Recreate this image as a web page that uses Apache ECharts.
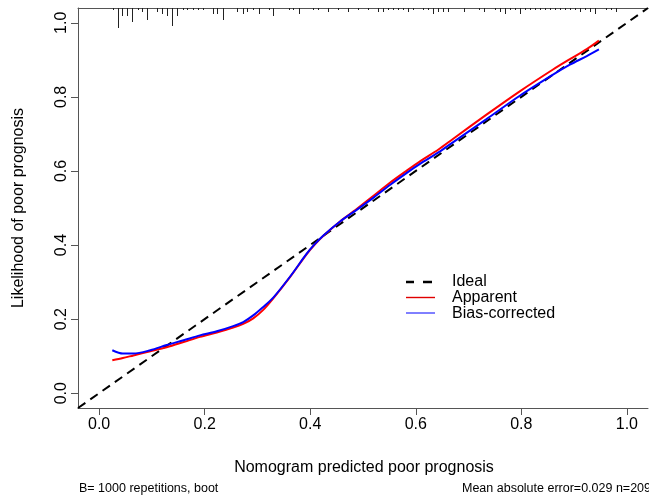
<!DOCTYPE html>
<html>
<head>
<meta charset="utf-8">
<script src="https://cdn.jsdelivr.net/npm/echarts@6/dist/echarts.min.js"></script>
<style>
html,body{margin:0;padding:0;background:#fff;}
#chart{width:649px;height:497px;}
</style>
</head>
<body>
<div id="chart"></div>
<script>
// ---- data ----
var tickValues = [0, 0.2, 0.4, 0.6, 0.8, 1.0];
var predX = [0.025, 0.045, 0.065, 0.097, 0.128, 0.160, 0.191, 0.223, 0.254, 0.273, 0.292, 0.311, 0.330, 0.362, 0.393, 0.409, 0.425, 0.456, 0.488, 0.520, 0.551, 0.583, 0.608, 0.643, 0.671, 0.734, 0.797, 0.860, 0.892, 0.924, 0.947];
var apparent = [0.089, 0.095, 0.102, 0.113, 0.124, 0.138, 0.152, 0.164, 0.177, 0.187, 0.202, 0.225, 0.256, 0.314, 0.375, 0.402, 0.425, 0.463, 0.497, 0.533, 0.568, 0.601, 0.626, 0.658, 0.687, 0.752, 0.815, 0.874, 0.902, 0.929, 0.952];
var biasCorrected = [0.116, 0.107, 0.107, 0.116, 0.130, 0.143, 0.156, 0.167, 0.181, 0.192, 0.210, 0.233, 0.258, 0.315, 0.376, 0.403, 0.426, 0.463, 0.495, 0.528, 0.562, 0.595, 0.619, 0.650, 0.678, 0.740, 0.803, 0.860, 0.887, 0.910, 0.928];
var idealX = [-0.04, 1.04];
var rugX = [0.026, 0.035, 0.043, 0.052, 0.0625, 0.073, 0.081, 0.090, 0.110, 0.119, 0.129, 0.139, 0.148, 0.158, 0.167, 0.177, 0.187, 0.196, 0.215, 0.224, 0.234, 0.262, 0.272, 0.281, 0.291, 0.302, 0.321, 0.330,
            0.359, 0.367, 0.378, 0.406, 0.415, 0.434, 0.453, 0.472, 0.491, 0.510, 0.529, 0.538, 0.548, 0.557, 0.567, 0.576, 0.586, 0.595, 0.614, 0.624, 0.633, 0.643, 0.652, 0.661,
            0.691, 0.720, 0.729, 0.750, 0.759, 0.769, 0.778, 0.788, 0.797, 0.807, 0.816, 0.826, 0.835, 0.845, 0.854, 0.864, 0.873, 0.883, 0.892, 0.902, 0.911, 0.920, 0.930, 0.939, 0.960, 0.969, 0.979];
var rugCount = [1, 10, 4, 4, 7, 1, 2, 6, 2, 3, 4, 9, 4, 1, 1, 1, 1, 1, 3, 3, 6, 2, 3, 2, 1, 3, 1, 4,
                1, 1, 3, 1, 1, 2, 1, 2, 1, 1, 2, 2, 1, 1, 1, 1, 2, 1, 1, 1, 3, 2, 2, 2,
                2, 1, 2, 1, 2, 3, 1, 1, 3, 1, 1, 1, 1, 1, 1, 1, 1, 1, 1, 1, 2, 1, 2, 3, 1, 1, 2];
var legendNames = ['Ideal', 'Apparent', 'Bias-corrected'];
var xTitle = 'Nomogram predicted poor prognosis';
var yTitle = 'Likelihood of poor prognosis';
var noteLeft = 'B= 1000 repetitions, boot';
var noteRight = 'Mean absolute error=0.029 n=209';

// ---- chart ----
var FONT = "'Liberation Sans', Arial, Helvetica, sans-serif";
var AX = -0.04, BX = 1.04;
var RUG_UNIT = 0.0054;
function pairs(xs, ys) { return xs.map(function (x, i) { return [x, ys[i]]; }); }

var chart = echarts.init(document.getElementById('chart'), null, { renderer: 'canvas' });
var axisLineStyle = { color: '#555', width: 1 };
var option = {
  animation: false,
  backgroundColor: '#fff',
  grid: { left: 78, top: 8, width: 570, height: 400, containLabel: false },
  xAxis: [{
    type: 'value', min: AX, max: BX, position: 'bottom',
    splitLine: { show: false },
    axisLine: { show: true, onZero: false, lineStyle: axisLineStyle },
    axisTick: { show: true, inside: false, length: 7, lineStyle: axisLineStyle, customValues: tickValues },
    axisLabel: { show: true, margin: 9, fontSize: 16, color: '#000', fontFamily: FONT, customValues: tickValues,
      formatter: function (v) { return v.toFixed(1); } }
  }, {
    type: 'value', min: AX, max: BX, position: 'top',
    splitLine: { show: false },
    axisLine: { show: true, onZero: false, lineStyle: axisLineStyle },
    axisTick: { show: false }, axisLabel: { show: false }
  }],
  yAxis: {
    type: 'value', min: AX, max: BX,
    splitLine: { show: false },
    axisLine: { show: true, onZero: false, lineStyle: axisLineStyle },
    axisTick: { show: true, inside: false, length: 7, lineStyle: axisLineStyle, customValues: tickValues },
    axisLabel: { show: true, margin: 8, rotate: 90, fontSize: 16, color: '#000', fontFamily: FONT, customValues: tickValues,
      formatter: function (v) { return v.toFixed(1); } }
  },
  series: [
    {
      name: 'rug', type: 'custom', xAxisIndex: 0,
      data: pairs(rugX, rugCount),
      renderItem: function (params, api) {
        var p0 = api.coord([api.value(0), BX]);
        var p1 = api.coord([api.value(0), BX - api.value(1) * RUG_UNIT]);
        var x = Math.round(p0[0]) + 0.5;
        return { type: 'line', shape: { x1: x, y1: p0[1], x2: x, y2: p1[1] },
          style: { stroke: '#222', lineWidth: 1 } };
      }
    },
    {
      name: legendNames[0], type: 'line', data: pairs(idealX, idealX),
      showSymbol: false, symbol: 'none',
      lineStyle: { color: '#000', width: 2, type: [9, 6] }
    },
    {
      name: legendNames[1], type: 'line', data: pairs(predX, apparent),
      showSymbol: false, symbol: 'none', smooth: 0.3,
      lineStyle: { color: '#ff0000', width: 2 }
    },
    {
      name: legendNames[2], type: 'line', data: pairs(predX, biasCorrected),
      showSymbol: false, symbol: 'none', smooth: 0.3,
      lineStyle: { color: '#0000ff', width: 2 }
    }
  ],
  graphic: [
    // legend
    { type: 'line', shape: { x1: 406, y1: 282, x2: 414, y2: 282 }, style: { stroke: '#000', lineWidth: 2.5 } },
    { type: 'line', shape: { x1: 423, y1: 282, x2: 432, y2: 282 }, style: { stroke: '#000', lineWidth: 2.5 } },
    { type: 'line', shape: { x1: 406, y1: 297.5, x2: 435, y2: 297.5 }, style: { stroke: '#e00000', lineWidth: 1.4 } },
    { type: 'line', shape: { x1: 406, y1: 313, x2: 435, y2: 313 }, style: { stroke: '#0000ff', lineWidth: 1 } },
    { type: 'text', x: 452, y: 282, style: { text: legendNames[0], fontSize: 16, fontFamily: FONT, fill: '#000', textAlign: 'left', textVerticalAlign: 'middle' } },
    { type: 'text', x: 452, y: 297.5, style: { text: legendNames[1], fontSize: 16, fontFamily: FONT, fill: '#000', textAlign: 'left', textVerticalAlign: 'middle' } },
    { type: 'text', x: 452, y: 313.5, style: { text: legendNames[2], fontSize: 16, fontFamily: FONT, fill: '#000', textAlign: 'left', textVerticalAlign: 'middle' } },
    // axis titles
    { type: 'text', x: 364, y: 468, style: { text: xTitle, fontSize: 16, fontFamily: FONT, fill: '#000', textAlign: 'center', textVerticalAlign: 'middle' } },
    { type: 'text', x: 19, y: 208, rotation: Math.PI / 2, style: { text: yTitle, fontSize: 16, fontFamily: FONT, fill: '#000', textAlign: 'center', textVerticalAlign: 'middle' } },
    // notes
    { type: 'text', x: 79, y: 489, style: { text: noteLeft, fontSize: 12.5, fontFamily: FONT, fill: '#000', textAlign: 'left', textVerticalAlign: 'middle' } },
    { type: 'text', x: 462, y: 489, style: { text: noteRight, fontSize: 12.5, fontFamily: FONT, fill: '#000', textAlign: 'left', textVerticalAlign: 'middle' } }
  ]
};
chart.setOption(option);
</script>
</body>
</html>
